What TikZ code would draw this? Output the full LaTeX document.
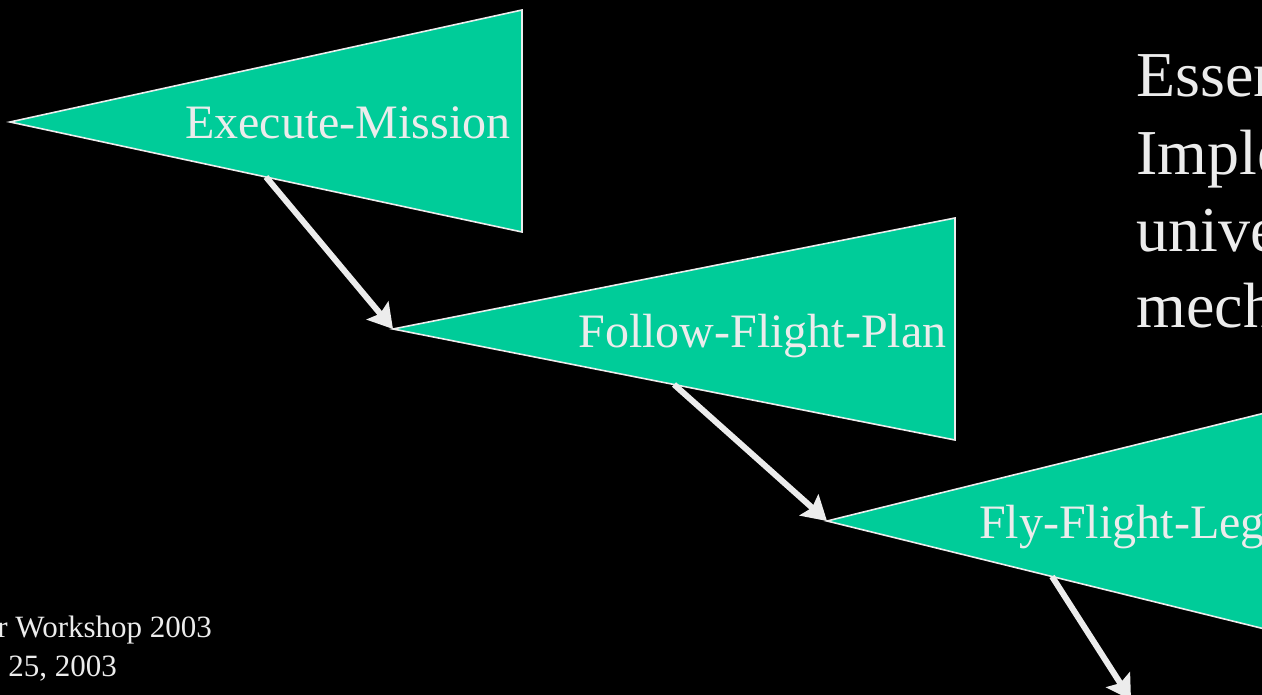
\documentclass[tikz,border=0pt]{standalone}
\usepackage{fontspec}
\setmainfont{Liberation Serif}
\usepackage{tikz}
\usetikzlibrary{arrows.meta,calc}

\definecolor{goalgreen}{RGB}{0,204,153}
\definecolor{slidegray}{RGB}{236,236,236}

\tikzset{
    goal/.style={draw=slidegray, line width=0.8pt, fill=goalgreen},
    goallabel/.style={anchor=base east, inner sep=0pt, text=slidegray, font=\fontsize{24}{28}\selectfont},
    expand/.style={draw=slidegray, line width=3pt, -{Stealth[length=12pt,width=14pt,inset=2pt]}},
    slidetext/.style={anchor=base west, inner sep=0pt, text=slidegray}
}

\begin{document}
\begin{tikzpicture}[x=0.5pt,y=-0.5pt]
    \clip (0,0) rectangle (1262,695);
    \fill[black] (0,0) rectangle (1262,695);

    % goal triangles
    \coordinate (em-tip) at (10,122);
    \coordinate (em-top) at (522,10);
    \coordinate (em-bot) at (522,232);
    \coordinate (ffp-tip) at (393,329);
    \coordinate (ffp-top) at (955,218);
    \coordinate (ffp-bot) at (955,440);
    \coordinate (ffl-tip) at (827,521);
    \coordinate (ffl-top) at (1277,410);
    \coordinate (ffl-bot) at (1277,632);
    \coordinate (next-goal) at (1131,700);

    \draw[goal] (em-tip) -- (em-top) -- (em-bot) -- cycle;
    \draw[goal] (ffp-tip) -- (ffp-top) -- (ffp-bot) -- cycle;
    \draw[goal] (ffl-tip) -- (ffl-top) -- (ffl-bot) -- cycle;

    \node[goallabel] (em) at (511,139) {Execute-Mission};
    \node[goallabel] (ffp) at (947,347) {Follow-Flight-Plan};
    \node[goallabel] (ffl) at (1265,538) {Fly-Flight-Leg};

    % subgoal arrows from the lower edge
    \draw[expand] ($(em-tip)!0.5!(em-bot)$) -- (ffp-tip);
    \draw[expand] ($(ffp-tip)!0.5!(ffp-bot)$) -- (ffl-tip);
    \draw[expand] ($(ffl-tip)!0.5!(ffl-bot)$) -- (next-goal);

    % slide text
    \begin{scope}[font=\fontsize{32}{38}\selectfont]
        \node[slidetext] (line-a) at (1136,97) {Essen};
        \node[slidetext] (line-b) at (1136,175) {Imple};
        \node[slidetext] (line-c) at (1136,251) {unive};
        \node[slidetext] (line-d) at (1136,327) {mech};
    \end{scope}
    \node[slidetext, font=\fontsize{15.5}{19}\selectfont] (venue) at (-3,637) {r Workshop 2003};
    \node[slidetext, font=\fontsize{15.5}{19}\selectfont] (date) at (8,676) {25, 2003};
\end{tikzpicture}
\end{document}
